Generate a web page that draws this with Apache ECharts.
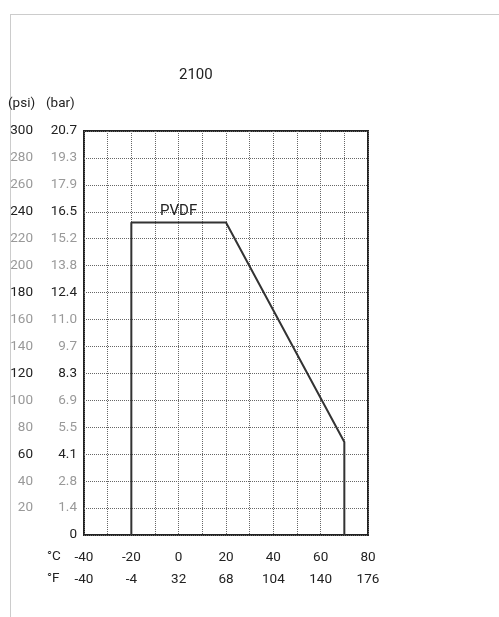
<!DOCTYPE html>
<html>
<head>
<meta charset="UTF-8">
<title>2100</title>
<script src="https://cdn.jsdelivr.net/npm/echarts@6/dist/echarts.min.js"></script>
<style>
  body { margin: 0; background: #fff; }
  #frame { position: absolute; left: 10px; top: 14px; right: 0; bottom: 0;
           border-left: 1px solid #ccc; border-top: 1px solid #ccc; }
  #main { position: absolute; left: 0; top: 0; width: 499px; height: 617px; }
</style>
</head>
<body>
<div id="frame"></div>
<div id="main"></div>
<script type="text/javascript">
  // data
  var psiTicks = [0, 20, 40, 60, 80, 100, 120, 140, 160, 180, 200, 220, 240, 260, 280, 300];
  var barTicks = ['0', '1.4', '2.8', '4.1', '5.5', '6.9', '8.3', '9.7', '11.0', '12.4', '13.8', '15.2', '16.5', '17.9', '19.3', '20.7'];
  var celsius = [-40, -20, 0, 20, 40, 60, 80];
  var fahrenheit = ['-40', '-4', '32', '68', '104', '140', '176'];
  // PVDF curve: [°C, psi]
  var pvdf = [[-20, 0], [-20, 232], [20, 232], [70, 69], [70, 0]];

  var chart = echarts.init(document.getElementById('main'));
  var font = 'Roboto';
  var fs = 13.5;

  var option = {
    animation: false,
    textStyle: { fontFamily: font },
    title: {
      text: '2100',
      left: 174, top: 63,
      textStyle: { fontSize: 15, fontWeight: 'normal', color: '#222', fontFamily: font }
    },
    grid: {
      left: 84, right: 131, top: 131, bottom: 82,
      show: true, borderColor: '#222', borderWidth: 2, backgroundColor: 'transparent'
    },
    xAxis: {
      type: 'value', min: -40, max: 80, interval: 10,
      axisLine: { show: false }, axisTick: { show: false },
      splitLine: { show: true, lineStyle: { type: 'dotted', color: '#666', width: 1 } },
      axisLabel: {
        showMinLabel: true, showMaxLabel: true, margin: 12,
        formatter: function (v) {
          var i = celsius.indexOf(v);
          if (i < 0) return '';
          return '{c|' + v + '}\n{f|' + fahrenheit[i] + '}';
        },
        rich: {
          c: { fontSize: fs, color: '#222', lineHeight: 22, fontFamily: font },
          f: { fontSize: fs, color: '#222', lineHeight: 22, fontFamily: font }
        }
      }
    },
    yAxis: {
      type: 'value', min: 0, max: 300, interval: 20,
      axisLine: { show: false }, axisTick: { show: false },
      splitLine: { show: true, lineStyle: { type: 'dotted', color: '#666', width: 1 } },
      axisLabel: {
        margin: 7,
        formatter: function (v) {
          var i = psiTicks.indexOf(v);
          if (i < 0) return '';
          if (v === 0) return '{pk|}{bk|0}';
          var k = (v % 60 === 0) ? 'k' : 'g';
          return '{p' + k + '|' + v + '}{b' + k + '|' + barTicks[i] + '}';
        },
        rich: {
          pk: { width: 26, align: 'right', fontSize: fs, color: '#222', fontFamily: font },
          pg: { width: 26, align: 'right', fontSize: fs, color: '#999', fontFamily: font },
          bk: { width: 44, align: 'right', fontSize: fs, color: '#222', fontFamily: font },
          bg: { width: 44, align: 'right', fontSize: fs, color: '#999', fontFamily: font }
        }
      }
    },
    graphic: [
      { type: 'text', left: 8, top: 97, style: { text: '(psi)', fontSize: fs, fill: '#222', fontFamily: font } },
      { type: 'text', left: 46, top: 97, style: { text: '(bar)', fontSize: fs, fill: '#222', fontFamily: font } },
      { type: 'text', left: 47, top: 550, style: { text: '°C', fontSize: fs, fill: '#222', fontFamily: font } },
      { type: 'text', left: 47, top: 572, style: { text: '°F', fontSize: fs, fill: '#222', fontFamily: font } }
    ],
    series: [{
      name: 'PVDF',
      type: 'line',
      data: pvdf,
      symbol: 'none',
      lineStyle: { color: '#333', width: 2 },
      markPoint: {
        symbol: 'circle', symbolSize: 0,
        data: [{ coord: [0, 232] }],
        label: {
          show: true, formatter: 'PVDF', position: 'top', distance: 4,
          fontSize: 15, color: '#222', fontFamily: font
        }
      }
    }]
  };
  chart.setOption(option);
</script>
</body>
</html>
